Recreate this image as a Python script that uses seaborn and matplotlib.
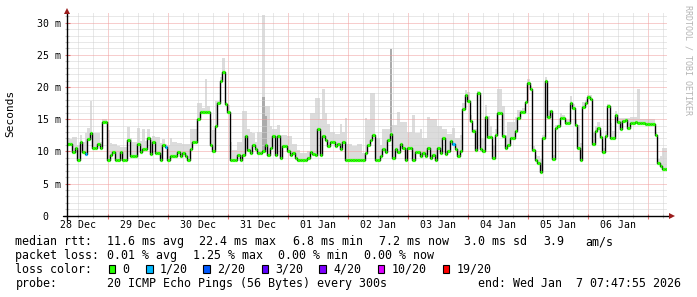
import numpy as np
import pandas as pd
import matplotlib
matplotlib.use("Agg")
import matplotlib.pyplot as plt
import seaborn as sns
from matplotlib.ticker import MultipleLocator, FixedLocator, NullFormatter
from matplotlib.patches import Rectangle

# ---------------- data (hourly samples, ms) ----------------
median_ms = [
    11.1, 11.1, 9.9, 10.5, 8.7, 11.4, 9.9, 9.6, 11.9, 12.9,
    10.5, 10.5, 11.1, 10.5, 14.6, 14.6, 8.7, 9.5, 9.9, 8.7,
    8.7, 9.9, 8.7, 8.7, 11.8, 9.2, 9.2, 9.2, 11.1, 9.9,
    10.3, 10.3, 12.1, 9.6, 11.4, 9.8, 9.8, 8.7, 11.0, 10.7,
    8.7, 9.2, 9.2, 9.2, 9.9, 9.2, 9.8, 9.2, 8.7, 10.4,
    11.4, 11.4, 15.1, 16.1, 16.1, 16.1, 16.1, 11.0, 10.1, 13.9,
    17.5, 20.9, 22.4, 17.4, 16.1, 8.7, 8.7, 8.7, 9.5, 8.7,
    9.5, 12.4, 10.2, 9.8, 11.0, 10.3, 9.8, 9.8, 10.1, 11.0,
    9.5, 10.5, 12.4, 9.4, 12.4, 9.0, 10.9, 10.9, 10.1, 9.4,
    9.7, 9.0, 8.7, 8.7, 8.7, 8.7, 9.0, 9.9, 9.6, 9.4,
    13.5, 9.4, 12.4, 11.7, 10.9, 11.4, 11.4, 10.9, 11.2, 10.4,
    11.5, 8.7, 8.7, 8.7, 8.7, 8.7, 8.7, 8.7, 8.7, 9.8,
    11.0, 11.8, 12.6, 8.7, 8.7, 9.2, 10.4, 9.9, 11.8, 12.7,
    8.9, 10.4, 9.9, 11.1, 10.5, 8.7, 10.5, 10.5, 8.7, 9.9,
    9.9, 9.2, 9.8, 9.2, 10.5, 8.9, 9.4, 8.7, 10.5, 9.8,
    12.1, 9.6, 10.1, 11.6, 11.1, 10.3, 9.2, 10.1, 16.6, 18.8,
    17.9, 14.7, 13.1, 10.2, 19.1, 10.3, 10.1, 15.3, 12.2, 12.2,
    8.9, 12.6, 16.0, 16.0, 12.4, 10.5, 11.0, 12.0, 12.0, 13.1,
    15.2, 16.1, 16.1, 17.6, 20.6, 19.7, 10.2, 8.7, 8.2, 6.8,
    12.0, 20.9, 15.4, 16.2, 8.8, 13.6, 13.9, 15.2, 15.2, 14.4,
    14.4, 17.5, 16.8, 14.1, 10.5, 8.6, 16.9, 17.5, 18.4, 18.2,
    11.2, 13.1, 13.6, 12.2, 9.9, 12.4, 17.0, 12.0, 12.0, 15.7,
    14.5, 13.5, 14.7, 14.8, 13.6, 14.4, 14.4, 14.5, 14.4, 14.4,
    14.4, 14.3, 14.3, 14.3, 14.2, 12.6, 8.2, 7.7, 7.3, 7.3,
]

smoke_top_ms = [
    11.9, 11.9, 12.2, 12.2, 11.0, 12.5, 11.5, 12.9, 13.7, 17.8,
    12.9, 12.9, 12.8, 11.4, 15.0, 15.0, 13.3, 11.3, 11.2, 11.2,
    10.9, 10.6, 10.6, 10.6, 13.8, 12.0, 11.4, 11.4, 13.6, 11.6,
    13.4, 11.6, 13.4, 11.8, 12.4, 12.3, 12.3, 11.3, 11.9, 11.2,
    11.0, 12.0, 11.4, 11.4, 11.3, 11.3, 11.2, 11.2, 11.1, 13.5,
    13.5, 13.5, 17.5, 17.5, 16.7, 21.2, 17.0, 15.0, 13.3, 17.8,
    17.8, 21.5, 24.5, 17.6, 17.2, 11.4, 10.2, 10.2, 11.5, 11.5,
    16.2, 16.2, 13.5, 13.0, 12.9, 11.5, 13.0, 13.0, 31.2, 17.0,
    17.0, 14.0, 13.5, 13.5, 14.1, 12.6, 12.6, 12.6, 12.4, 12.4,
    11.2, 11.2, 10.2, 9.8, 9.8, 9.8, 10.1, 15.9, 15.9, 18.3,
    18.3, 15.0, 19.7, 15.9, 14.3, 13.0, 13.0, 12.7, 12.7, 14.3,
    13.0, 15.2, 11.2, 11.2, 10.9, 10.9, 11.2, 11.2, 9.8, 15.2,
    14.9, 19.1, 19.1, 12.1, 12.1, 11.0, 13.4, 13.4, 13.4, 25.9,
    14.1, 14.1, 16.1, 14.5, 14.5, 14.5, 13.0, 13.0, 15.7, 12.8,
    12.8, 13.5, 12.0, 12.0, 15.3, 15.0, 15.0, 15.0, 13.9, 13.9,
    13.5, 13.5, 12.7, 12.7, 13.7, 12.0, 12.0, 12.5, 17.5, 19.5,
    19.3, 15.7, 13.5, 13.5, 19.4, 12.0, 12.0, 17.2, 15.5, 14.0,
    11.0, 13.5, 19.7, 19.7, 17.0, 12.5, 14.6, 14.6, 14.6, 15.3,
    16.4, 16.4, 16.7, 17.6, 21.2, 20.1, 10.8, 9.5, 9.2, 8.8,
    12.6, 21.5, 16.5, 16.5, 9.5, 14.1, 14.1, 15.9, 15.7, 14.8,
    14.9, 18.6, 17.4, 15.0, 14.1, 11.3, 17.6, 18.0, 18.8, 18.8,
    13.0, 13.9, 14.5, 13.0, 10.5, 13.2, 17.3, 14.4, 13.1, 16.2,
    15.2, 15.2, 15.2, 15.2, 15.2, 15.3, 15.3, 15.3, 19.7, 15.0,
    15.0, 15.0, 15.0, 15.0, 15.0, 13.0, 8.8, 9.2, 10.5, 10.5,
]

# darker smoke bands (dense ping clusters on the spikes)
dark_hours = [78, 79, 129]
dark_top_ms = [18.4, 15.5, 25.9]

# samples with packet loss (pings lost out of 20)
loss_hours = [7, 39, 154]
loss_levels = [1, 1, 1]

start_hour = 7.8          # 28 Dec 07:47:55, hours after 28 Dec 00:00
day_labels = ["28 Dec", "29 Dec", "30 Dec", "31 Dec", "01 Jan",
              "02 Jan", "03 Jan", "04 Jan", "05 Jan", "06 Jan"]
y_tick_values = [0, 5, 10, 15, 20, 25, 30]
y_tick_labels = ["0  ", "5 m", "10 m", "15 m", "20 m", "25 m", "30 m"]

loss_legend_levels = [0, 1, 2, 3, 4, 10, 19]
loss_legend_labels = ["0", "1/20", "2/20", "3/20", "4/20", "10/20", "19/20"]
loss_legend_colors = ["#26ff00", "#00b8ff", "#0059ff", "#5e00ff",
                      "#7e00ff", "#dd00ff", "#ff0000"]

rtt_stats = ["11.6 ms avg", "22.4 ms max", "6.8 ms min", "7.2 ms now",
             "3.0 ms sd", "3.9", "am/s"]
loss_stats = ["0.01 % avg", "1.25 % max", "0.00 % min", "0.00 % now"]
probe_text = "20 ICMP Echo Pings (56 Bytes) every 300s"
end_text = "end: Wed Jan  7 07:47:55 2026"

# ---------------- figure ----------------
sns.set_theme(style="white")
plt.rcParams["font.family"] = ["DejaVu Sans Mono", "DejaVu Sans"]

W, H = 697, 297
fig = plt.figure(figsize=(W / 100, H / 100), dpi=100)
fig.patch.set_facecolor("white")
PL, PR, PT, PB = 67.0, 667.0, 13.0, 215.7
ax = fig.add_axes([PL / W, 1 - PB / H, (PR - PL) / W, (PB - PT) / H])
ax.set_facecolor("white")

n = len(median_ms)
med = np.array(median_ms)
top = np.maximum(np.array(smoke_top_ms), med)
t0 = start_hour + np.arange(n)
t_edges = start_hour + np.arange(n + 1)
med_e = np.append(med, med[-1])
top_e = np.append(top, top[-1])

ax.fill_between(t_edges, med_e, top_e, step="post", color="#dcdcdc", lw=0, zorder=1)
for h, v in zip(dark_hours, dark_top_ms):
    ax.fill_between([t_edges[h], t_edges[h + 1]], [med[h]] * 2, [v] * 2,
                    color="#ababab", lw=0, zorder=1.2)

df = pd.DataFrame({"t": t_edges, "ms": med_e})
sns.lineplot(data=df, x="t", y="ms", drawstyle="steps-post", color="black",
             lw=1.0, ax=ax, zorder=4, estimator=None)

color_of = dict(zip(loss_legend_levels, loss_legend_colors))
seg_colors = [color_of[0]] * n
for h, lv in zip(loss_hours, loss_levels):
    seg_colors[h] = color_of[lv]
ax.hlines(med, t0, t0 + 1, colors=seg_colors, lw=2.3, zorder=5)

ax.set_xlim(start_hour, start_hour + n)
ax.set_ylim(0, 31.5)
ax.set_xlabel("")
ax.set_ylabel("")

# ticks & grid
ax.xaxis.set_major_locator(MultipleLocator(24))
ax.xaxis.set_minor_locator(MultipleLocator(6))
ax.xaxis.set_major_formatter(NullFormatter())
ax.yaxis.set_major_locator(FixedLocator(y_tick_values))
ax.set_yticklabels(y_tick_labels)
ax.yaxis.set_minor_locator(MultipleLocator(1))
ax.tick_params(which="both", bottom=True, left=True, top=False, right=False,
               direction="inout")
ax.tick_params(which="major", length=3.6, width=0.8, color="#e07070")
ax.tick_params(which="minor", length=2.6, width=0.8, color="#c4c4c4")
ax.tick_params(axis="y", which="major", labelsize=7.1, pad=2.6, labelcolor="black")
ax.tick_params(axis="x", which="both", labelbottom=False)
ax.set_axisbelow(False)
ax.grid(which="major", color="#f09c9c", ls=(0, (1, 1)), lw=0.72, zorder=2.5)
ax.grid(which="minor", color="#d2d2d2", ls=(0, (1, 1)), lw=0.72, zorder=2.4)
for s in ax.spines.values():
    s.set_visible(False)

xt = ax.get_xaxis_transform()
for i, lab in enumerate(day_labels):
    ax.text(12 + 24 * i, -(224.5 - PB) / (PB - PT), lab, transform=xt,
            ha="center", va="center", fontsize=7.1, color="black")

# axis lines with arrows
pw, ph = PR - PL, PB - PT
ax.plot([0, 0], [-4 / ph, 1.0], transform=ax.transAxes, color="black",
        lw=1.0, clip_on=False, zorder=7)
ax.plot([-4 / pw, 1 + 4 / pw], [0, 0], transform=ax.transAxes, color="black",
        lw=1.0, clip_on=False, zorder=7)
ax.plot([0], [1 + 2 / ph], marker="^", ms=4.2, color="#9b1c1c", mew=0,
        transform=ax.transAxes, clip_on=False, zorder=8)
ax.plot([1 + 5 / pw], [0], marker=">", ms=4.2, color="#9b1c1c", mew=0,
        transform=ax.transAxes, clip_on=False, zorder=8)

# y label and watermark
fig.text(10.5 / W, 1 - 113.3 / H, "Seconds", rotation=90, ha="center",
         va="center", fontsize=8.0, color="black")
fig.text(688 / W, 1 - 5 / H, "RRDTOOL / TOBI OETIKER", rotation=270,
         ha="center", va="top", fontsize=6.0, color="#b4b4b4")

# ---------------- legend block ----------------
LF = 8.4
def ftxt(x, base, s):
    fig.text((x - 0.6) / W, 1 - base / H, s, ha="left", va="baseline",
             fontsize=LF, color="black")

b1, b2, b3, b4 = 245.3, 259.3, 273.0, 287.0
ftxt(16, b1, "median rtt:")
for x, s in zip([107.3, 200, 293.5, 379.3, 465, 544.3, 586], rtt_stats):
    ftxt(x, b1, s)
ftxt(16, b2, "packet loss:")
for x, s in zip([107.3, 194, 279, 365], loss_stats):
    ftxt(x, b2, s)
ftxt(16, b3, "loss color:")
box_x = [108.7, 146, 203.3, 261.5, 319.4, 377.7, 442.7]
for bx, lab, col in zip(box_x, loss_legend_labels, loss_legend_colors):
    fig.add_artist(Rectangle((bx / W, 1 - 273.0 / H), 6.7 / W, 7.7 / H,
                             facecolor=col, edgecolor="black", lw=0.8,
                             transform=fig.transFigure))
    ftxt(bx + 14.6, b3, lab)
ftxt(16, b4, "probe:")
ftxt(107.3, b4, probe_text)
ftxt(478.3, b4, end_text)

fig.savefig("out.png", dpi=100, facecolor="white")
